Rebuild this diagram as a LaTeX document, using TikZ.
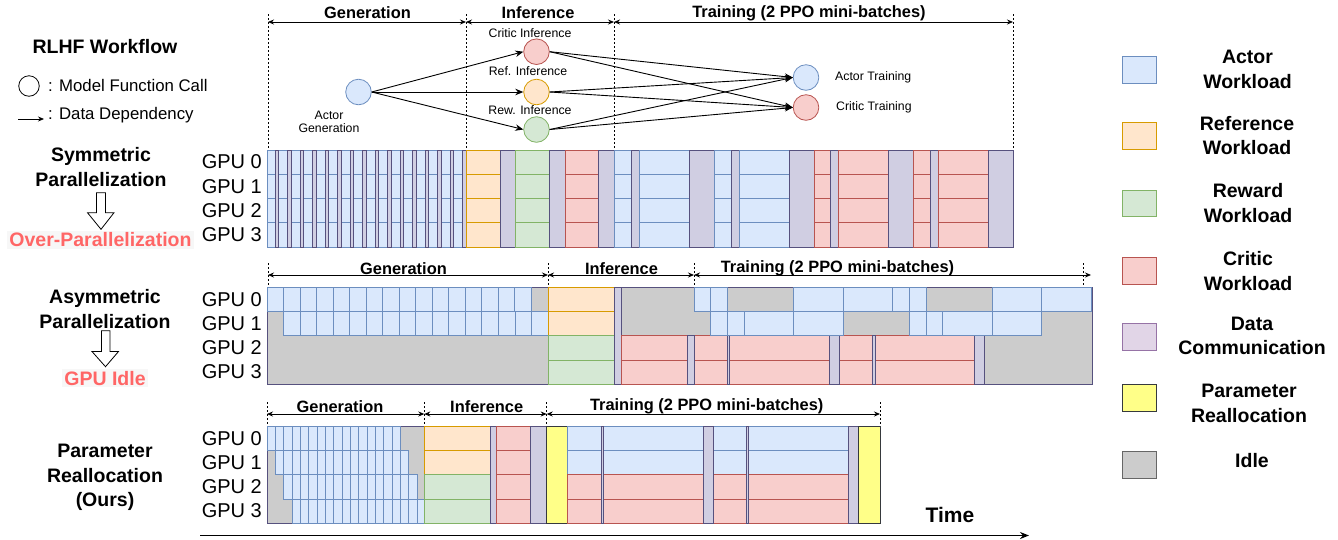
\documentclass[tikz,border=0pt]{standalone}
\usepackage{fontspec}
\setmainfont{Liberation Sans}
\usetikzlibrary{arrows.meta}
\definecolor{bluF}{HTML}{DAE8FC}\definecolor{bluD}{HTML}{6C8EBF}
\definecolor{oraF}{HTML}{FFE6CC}\definecolor{oraD}{HTML}{D79B00}
\definecolor{grnF}{HTML}{D5E8D4}\definecolor{grnD}{HTML}{82B366}
\definecolor{redF}{HTML}{F8CECC}\definecolor{redD}{HTML}{B85450}
\definecolor{purF}{HTML}{D0CEE2}\definecolor{purD}{HTML}{56517E}
\definecolor{lpurF}{HTML}{E1D5E7}\definecolor{lpurD}{HTML}{9673A6}
\definecolor{yelF}{HTML}{FFFF88}\definecolor{yelD}{HTML}{36393D}
\definecolor{gryF}{HTML}{CCCCCC}\definecolor{gryD}{HTML}{666666}
\definecolor{warn}{HTML}{FF6666}
\tikzset{
  ablk/.style={fill=bluF,draw=bluD,line width=0.8pt},
  rblk/.style={fill=oraF,draw=oraD,line width=0.8pt},
  wblk/.style={fill=grnF,draw=grnD,line width=0.8pt},
  cblk/.style={fill=redF,draw=redD,line width=0.8pt},
  dblk/.style={fill=purF,draw=purD,line width=0.8pt},
  lblk/.style={fill=lpurF,draw=lpurD,line width=0.8pt},
  yblk/.style={fill=yelF,draw=yelD,line width=0.8pt},
  iblk/.style={fill=gryF,draw=purD,line width=0.8pt},
  gblk/.style={fill=gryF,draw=gryD,line width=0.8pt},
  hdr/.style={font=\bfseries\fontsize{16.4}{18}\selectfont,inner sep=0pt},
  gpu/.style={font=\fontsize{20}{22}\selectfont,anchor=east,inner sep=0pt},
  lbl/.style={font=\bfseries\fontsize{19.5}{24.3}\selectfont,align=center,inner sep=0pt},
  small/.style={font=\fontsize{12.3}{14}\selectfont,inner sep=0pt,align=center},
  mid/.style={font=\fontsize{16.8}{18}\selectfont,inner sep=0pt,anchor=west},
  circ/.style={circle,minimum size=25.6pt,inner sep=0pt,line width=0.8pt},
  flow/.style={-{Stealth[length=8pt,width=6.5pt]},line width=0.9pt},
  dim/.style={{Stealth[length=6pt,width=5pt]}-{Stealth[length=6pt,width=5pt]},line width=0.8pt},
  vdash/.style={dash pattern=on 2pt off 2pt,line width=0.6pt},
  hollow/.style={draw=black,fill=white,line width=0.8pt}
}
\newcommand\cells[6]{\foreach \r in {#6}{\draw[#1] (#2,{#4+#5*\r}) rectangle (#3,{#4+#5*(\r+1)});}}
\newcommand\symc[3]{\cells{#1}{#2}{#3}{150}{24.25}{0,1,2,3}}
\newcommand\symf[3]{\draw[#1] (#2,150) rectangle (#3,247);}
\newcommand\asyc[4]{\cells{#1}{#2}{#3}{287}{24.3}{#4}}
\newcommand\parc[4]{\cells{#1}{#2}{#3}{426}{24.3}{#4}}
\newcommand\parf[3]{\draw[#1] (#2,426) rectangle (#3,523.2);}
\begin{document}
\begin{tikzpicture}[x=1pt,y=-1pt]
\useasboundingbox (0,0) rectangle (1338,539);

% ---------------- left legend of workflow
\node[lbl] (rlhf) at (105,47) {RLHF Workflow};
\node[circle,draw=black,line width=0.8pt,minimum size=20.5pt,inner sep=0pt] (lc) at (29,86) {};
\node[mid] (lct) at (48,85) {: Model Function Call};
\coordinate (la0) at (18,119);
\coordinate (la1) at (44,119);
\draw[-{Stealth[length=6pt,width=5pt]},line width=0.8pt] (la0) -- (la1);
\node[mid] (lat) at (48,115) {: Data Dependency};

% ---------------- top workflow graph
\foreach \x in {268,466,614,1013} \draw[vdash] (\x,14) -- (\x,150);
\coordinate (t0) at (268,22); \coordinate (t1) at (466,22);
\coordinate (t2) at (614,22); \coordinate (t3) at (1013,22);
\draw[dim] (t0) -- (t1); \draw[dim] (t1) -- (t2); \draw[dim] (t2) -- (t3);
\node[hdr] (h1) at (367.5,13) {Generation};
\node[hdr] (h2) at (538,13) {Inference};
\node[hdr] (h3) at (809,13) {Training (2 PPO mini-batches)};

\node[circ,fill=bluF,draw=bluD] (ag) at (358.5,92) {};
\node[circ,fill=redF,draw=redD] (ci) at (536.5,51.7) {};
\node[circ,fill=oraF,draw=oraD] (ri) at (536.5,92) {};
\node[circ,fill=grnF,draw=grnD] (wi) at (536.5,129.5) {};
\node[circ,fill=bluF,draw=bluD] (at) at (806,77.5) {};
\node[circ,fill=redF,draw=redD] (ct) at (806,107.5) {};
\node[small] (agl) at (329,122) {Actor\\[-1pt]Generation};
\node[small] (cil) at (530,33) {Critic Inference};
\node[small] (ril) at (528,71.5) {Ref. Inference};
\node[small] (wil) at (530,110) {Rew. Inference};
\node[small,anchor=west] (atl) at (835,77.5) {Actor Training};
\node[small,anchor=west] (ctl) at (836,107) {Critic Training};
\draw[flow] (ag.east) -- (ci.west);
\draw[flow] (ag.east) -- (ri.west);
\draw[flow] (ag.east) -- (wi.west);
\foreach \s in {ci,ri,wi}{
  \draw[flow] (\s.east) -- (at.west);
  \draw[flow] (\s.east) -- (ct.west);
}

% ---------------- left side labels
\node[lbl] (sym) at (101,167) {Symmetric\\Parallelization};
\draw[hollow] (96.5,192.7) -- (105.5,192.7) -- (105.5,212.7) -- (114,212.7) -- (101,229.3) -- (87.5,212.7) -- (96.5,212.7) -- cycle;
\node[lbl,text=warn,fill=black!3,inner sep=2pt] (ovp) at (100.5,240) {Over-Parallelization};
\node[lbl] (asy) at (105,309) {Asymmetric\\Parallelization};
\draw[hollow] (101.5,330.7) -- (110,330.7) -- (110,351.5) -- (118.5,351.5) -- (105.5,366.7) -- (92,351.5) -- (101.5,351.5) -- cycle;
\node[lbl,text=warn,fill=black!3,inner sep=2pt] (idl) at (105,378.3) {GPU Idle};
\node[lbl] (par) at (105,477.5) {Parameter\\Reallocation\\(Ours)};

% ---------------- Symmetric chart
\foreach \i/\y in {0/162.1,1/186.4,2/210.6,3/234.9} \node[gpu] (sg\i) at (262,\y) {GPU \i};
\symc{ablk}{267}{275}
\foreach \k in {0,...,14} {\symc{ablk}{278.5+12.5*\k}{287.5+12.5*\k}}
\foreach \k in {0,...,15} {\symf{dblk}{275+12.5*\k}{278.5+12.5*\k}}
\symc{rblk}{466}{500}
\symf{dblk}{500}{515.5}
\symc{wblk}{515.5}{549}
\symf{dblk}{549}{565}
\symc{cblk}{565}{598}
\symf{dblk}{598}{614}
\symc{ablk}{614}{631}
\symf{dblk}{631}{639}
\symc{ablk}{639}{689}
\symf{dblk}{689}{714}
\symc{ablk}{714}{731}
\symf{dblk}{731}{739}
\symc{ablk}{739}{789}
\symf{dblk}{789}{814}
\symc{cblk}{814}{830}
\symf{dblk}{830}{838}
\symc{cblk}{838}{888}
\symf{dblk}{888}{913}
\symc{cblk}{913}{930}
\symf{dblk}{930}{938}
\symc{cblk}{938}{988}
\symf{dblk}{988}{1013}

% ---------------- Asymmetric chart
\foreach \x in {268,548,694,1083} \draw[vdash] (\x,263) -- (\x,287);
\coordinate (a0) at (268,275); \coordinate (a1) at (548,275);
\coordinate (a2) at (694,275); \coordinate (a3) at (1091,275);
\draw[dim] (a0) -- (a1); \draw[dim] (a1) -- (a2); \draw[dim] (a2) -- (a3);
\node[hdr] (ah1) at (403.5,268.5) {Generation};
\node[hdr] (ah2) at (621.5,268.5) {Inference};
\node[hdr] (ah3) at (837.5,268.5) {Training (2 PPO mini-batches)};
\foreach \i/\y in {0/299.2,1/323.5,2/347.8,3/372.1} \node[gpu] (ag\i) at (262,\y) {GPU \i};
\draw[iblk] (267,287) rectangle (1092,384.2);
\foreach \k in {0,...,15} {\asyc{ablk}{267+16.5*\k}{283.5+16.5*\k}{0}}
\foreach \k in {0,...,15} {\asyc{ablk}{283.5+16.53*\k}{300.03+16.53*\k}{1}}
\asyc{rblk}{548}{614}{0,1}
\asyc{wblk}{548}{614}{2,3}
\draw[dblk] (614,287) rectangle (621.5,384.2);
\asyc{cblk}{621.5}{687.3}{2,3}
\asyc{cblk}{694}{727.7}{2,3}
\asyc{cblk}{729.3}{829.3}{2,3}
\asyc{cblk}{839}{872.3}{2,3}
\asyc{cblk}{875}{974.3}{2,3}
\foreach \a/\b in {687.3/694,727.7/729.3,829.3/839,872.3/875,974.3/984.3}
  {\draw[dblk] (\a,335.6) rectangle (\b,384.2);}
\foreach \a/\b in {694/710.7,710.7/727.7,793.3/843.3,843.3/892.7,892.7/909.3,909.3/926,992.7/1041.7,1041.7/1091.3}
  {\asyc{ablk}{\a}{\b}{0}}
\foreach \a/\b in {710.7/727.7,727.7/744.3,744.3/793.3,793.3/843.3,909.3/926,926/942.7,942.7/992.7,992.7/1041.7}
  {\asyc{ablk}{\a}{\b}{1}}

% ---------------- Parameter reallocation chart
\foreach \x in {267,424.3,546.7,880} \draw[vdash] (\x,402) -- (\x,426);
\coordinate (p0) at (267,414); \coordinate (p1) at (424.3,414);
\coordinate (p2) at (546.7,414); \coordinate (p3) at (880,414);
\draw[dim] (p0) -- (p1); \draw[dim] (p1) -- (p2); \draw[dim] (p2) -- (p3);
\node[hdr] (ph1) at (340,406.5) {Generation};
\node[hdr] (ph2) at (486.7,406.5) {Inference};
\node[hdr] (ph3) at (706.7,406.5) {Training (2 PPO mini-batches)};
\foreach \i/\y in {0/438.2,1/462.5,2/486.8,3/511.1} \node[gpu] (pg\i) at (262,\y) {GPU \i};
\draw[iblk] (267,426) rectangle (424.3,523.2);
\foreach \r in {0,...,3}{\foreach \k in {0,...,15}{
  \draw[ablk] ({267+8.333*(\r+\k)},{426+24.3*\r}) rectangle ({275.333+8.333*(\r+\k)},{450.3+24.3*\r});}}
\parc{rblk}{424.3}{490}{0,1}
\parc{wblk}{424.3}{490}{2,3}
\parf{dblk}{490}{496.7}
\parc{cblk}{496.7}{530}{0,1,2,3}
\parf{dblk}{530}{546.7}
\parf{yblk}{546.7}{567.7}
\foreach \a/\b in {567.7/601.7,603.3/703.3,713/746.7,748.3/848.3}{
  \parc{ablk}{\a}{\b}{0,1}
  \parc{cblk}{\a}{\b}{2,3}}
\foreach \a/\b in {601.7/603.3,703.3/713,746.7/748.3,848.3/858}{\parf{dblk}{\a}{\b}}
\parf{yblk}{858}{880}

% ---------------- time axis
\node[font=\bfseries\fontsize{21}{24}\selectfont,inner sep=0pt] (time) at (950,515) {Time};
\coordinate (ta) at (200,535.5); \coordinate (tb) at (1029,535.5);
\draw[-{Stealth[length=9pt,width=7pt]},line width=1.6pt] (ta) -- (tb);

% ---------------- right legend
\draw[ablk] (1122,56) rectangle (1156,83);
\node[lbl] (k1) at (1247.5,69.5) {Actor\\Workload};
\draw[rblk] (1122,122.7) rectangle (1156,149.3);
\node[lbl] (k2) at (1247,135.3) {Reference\\Workload};
\draw[wblk] (1122,190) rectangle (1156,216.7);
\node[lbl] (k3) at (1248,203) {Reward\\Workload};
\draw[cblk] (1122,257.3) rectangle (1156,284);
\node[lbl] (k4) at (1248,271) {Critic\\Workload};
\draw[lblk] (1122,323.3) rectangle (1156,350);
\node[lbl] (k5) at (1252,336.2) {Data\\Communication};
\draw[yblk] (1122,384.3) rectangle (1156,411);
\node[lbl] (k6) at (1249,403.3) {Parameter\\Reallocation};
\draw[gblk] (1122,451) rectangle (1156,478.3);
\node[lbl] (k7) at (1252,461) {Idle};
\end{tikzpicture}
\end{document}
